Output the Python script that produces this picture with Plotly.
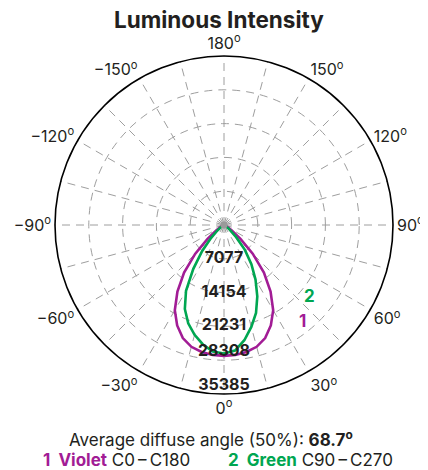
import plotly.graph_objects as go

# ---- data ----
angles = [0, 5, 10, 15, 20, 25, 30, 35, 40, 45, 50, 55, 60, 65, 70, 75, 80, 85, 90]
violet_c0_c180 = [27400, 27300, 27000, 26400, 25200, 23200, 20600, 17000, 13000, 8500,
                  4500, 2000, 800, 300, 100, 0, 0, 0, 0]
green_c90 = [26900, 26400, 24500, 22100, 19600, 16500, 13200, 10000, 6800, 3600,
             1600, 600, 200, 0, 0, 0, 0, 0, 0]
green_c270 = [26900, 26600, 25400, 23800, 21900, 19400, 15900, 11200, 7100, 3800,
              1800, 700, 200, 0, 0, 0, 0, 0, 0]
ring_values = [7077, 14154, 21231, 28308, 35385]
ring_labels = ["7077", "14154", "21231", "28308", "35385"]
tick_angles = list(range(0, 360, 15))
tick_names = {0: "0", 30: "30", 60: "60", 90: "90", 120: "120", 150: "150", 180: "180",
              210: "\u2212150", 240: "\u2212120", 270: "\u221290", 300: "\u221260", 330: "\u221230"}
avg_angle = "68.7"

VIOLET = "#A21C95"
GREEN = "#00A651"
TXT = "#231F20"
GRID = "#9e9e9e"
FONT = "Inter, Liberation Sans, Arial, sans-serif"

# page has an 8px body margin: figure is 420x462 drawn at (8, 8)
W, H, OFF = 420, 462, 8


def px(x):
    return (x - OFF) / W


def py(y):
    return 1 - (y - OFF) / H


def loop(left, right):
    th = [-a for a in reversed(angles)] + angles[1:]
    rr = list(reversed(left)) + right[1:]
    return th, rr


fig = go.Figure()
th, rr = loop(violet_c0_c180, violet_c0_c180)
fig.add_trace(go.Scatterpolar(theta=th, r=rr, mode="lines",
                              line=dict(color=VIOLET, width=2.6), hoverinfo="skip"))
th, rr = loop(green_c270, green_c90)
fig.add_trace(go.Scatterpolar(theta=th, r=rr, mode="lines",
                              line=dict(color=GREEN, width=2.6), hoverinfo="skip"))
fig.add_trace(go.Scatterpolar(theta=[0], r=[0], mode="markers",
                              marker=dict(color="#9a9a9a", size=7), hoverinfo="skip"))
label_pos = ["middle center", "middle center", "middle center", "top center", "top center"]
fig.add_trace(go.Scatterpolar(theta=[0] * len(ring_values), r=ring_values, mode="text",
                              text=["<b>" + s + "</b>" for s in ring_labels],
                              textfont=dict(family=FONT, size=16, color=TXT),
                              textposition=label_pos, cliponaxis=False,
                              hoverinfo="skip"))

ticktext = [(tick_names[a] + "<sup>o</sup>") if a in tick_names else "" for a in tick_angles]

cx, cy, rad = 224, 225, 169
fig.update_layout(
    width=W, height=H,
    margin=dict(l=0, r=0, t=0, b=0),
    paper_bgcolor="white",
    showlegend=False,
    font=dict(family=FONT, color=TXT),
    polar=dict(
        domain=dict(x=[px(cx - rad), px(cx + rad)], y=[py(cy + rad), py(cy - rad)]),
        bgcolor="white",
        angularaxis=dict(
            rotation=270, direction="counterclockwise",
            tickmode="array", tickvals=tick_angles, ticktext=ticktext,
            ticks="", showline=True, linecolor="black", linewidth=1.6,
            showgrid=True, gridcolor=GRID, gridwidth=1, griddash="8px,6px",
            tickfont=dict(family=FONT, size=16, color=TXT),
        ),
        radialaxis=dict(
            range=[0, ring_values[-1]],
            tickmode="array", tickvals=ring_values,
            showticklabels=False, ticks="", showline=False,
            showgrid=True, gridcolor=GRID, gridwidth=1, griddash="8px,6px",
        ),
    ),
    annotations=[
        dict(text="<b>Luminous Intensity</b>", x=px(219), y=py(19),
             xanchor="center", yanchor="middle",
             xref="paper", yref="paper", showarrow=False,
             font=dict(family=FONT, size=22.5, color=TXT)),
        dict(text="<b>2</b>", x=px(309), y=py(296), xanchor="center", yanchor="middle",
             xref="paper", yref="paper",
             showarrow=False, font=dict(family=FONT, size=17, color=GREEN)),
        dict(text="<b>1</b>", x=px(302), y=py(321), xanchor="center", yanchor="middle",
             xref="paper", yref="paper",
             showarrow=False, font=dict(family=FONT, size=17, color=VIOLET)),
        dict(text="Average diffuse angle (50%): <b>" + avg_angle + "<sup>o</sup></b>",
             x=px(211), y=py(438), xanchor="center", yanchor="middle",
             xref="paper", yref="paper",
             showarrow=False, font=dict(family=FONT, size=17, color=TXT)),
        dict(text="<span style='color:" + VIOLET + "'><b>1  Violet</b></span> C0\u2009\u2013\u2009C180",
             x=px(41), y=py(460), xanchor="left", yanchor="middle",
             xref="paper", yref="paper",
             showarrow=False, font=dict(family=FONT, size=17, color=TXT)),
        dict(text="<span style='color:" + GREEN + "'><b>2  Green</b></span> C90\u2009\u2013\u2009C270",
             x=px(226), y=py(460), xanchor="left", yanchor="middle",
             xref="paper", yref="paper",
             showarrow=False, font=dict(family=FONT, size=17, color=TXT)),
    ],
)

fig.write_html("out.html")
